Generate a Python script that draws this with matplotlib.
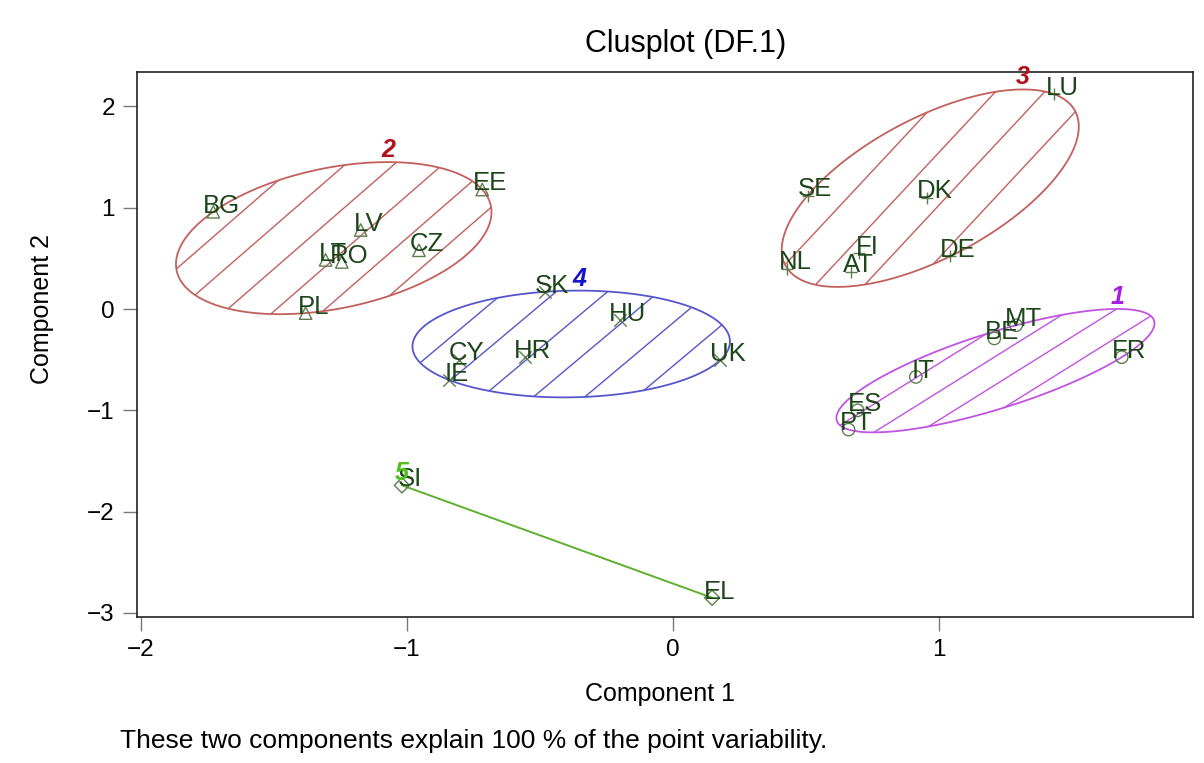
import numpy as np
import matplotlib
matplotlib.use("Agg")
import matplotlib.pyplot as plt
from matplotlib.patches import Polygon
from matplotlib.collections import LineCollection

plt.rcParams["font.family"] = ["Liberation Sans", "DejaVu Sans"]

# Country scores on the two components
NAMES = ["BE", "MT", "FR", "IT", "ES", "PT",
         "BG", "EE", "LV", "LT", "RO", "CZ", "PL",
         "LU", "SE", "DK", "FI", "AT", "NL", "DE",
         "SK", "HU", "HR", "CY", "IE", "UK",
         "SI", "EL"]
PC1 = [1.208, 1.290, 1.687, 0.913, 0.694, 0.660,
       -1.728, -0.717, -1.174, -1.306, -1.245, -0.955, -1.381,
       1.434, 0.506, 0.955, 0.700, 0.668, 0.430, 1.042,
       -0.483, -0.200, -0.558, -0.804, -0.842, 0.177,
       -1.019, 0.147]
PC2 = [-0.29, -0.16, -0.475, -0.67, -1.00, -1.19,
       0.96, 1.18, 0.78, 0.485, 0.465, 0.58, -0.04,
       2.12, 1.12, 1.10, 0.55, 0.37, 0.40, 0.52,
       0.17, -0.11, -0.475, -0.50, -0.70, -0.505,
       -1.74, -2.85]
CLUSTER = [1] * 6 + [2] * 7 + [3] * 7 + [4] * 6 + [5] * 2

X_TICKS = [-2, -1, 0, 1]
Y_TICKS = [-3, -2, -1, 0, 1, 2]

# style per cluster: marker, outline colour, label colour, hatch angle, hatch spacing (px)
STYLE = {
    1: dict(marker="o", edge="#c054e0", lab="#a61fe0", angle=32, gap=24),
    2: dict(marker="^", edge="#c2605c", lab="#b3121a", angle=41, gap=32),
    3: dict(marker="+", edge="#c2605c", lab="#b3121a", angle=47, gap=36),
    4: dict(marker="x", edge="#5656cc", lab="#1414c8", angle=40, gap=33),
    5: dict(marker="D", edge="#5fb02e", lab="#4cc21a", angle=45, gap=30),
}
PT_COL = "#5d7d50"
TXT_COL = "#1c461a"


def mvee(P, tol=1e-5, max_iter=4000):
    # minimum volume enclosing ellipse (Khachiyan), like cluster::ellipsoidhull
    N, d = P.shape
    Q = np.vstack([P.T, np.ones(N)])
    u = np.ones(N) / N
    for _ in range(max_iter):
        X = (Q * u) @ Q.T
        M = np.einsum("ij,ji->i", Q.T @ np.linalg.inv(X), Q)
        j = np.argmax(M)
        step = (M[j] - d - 1) / ((d + 1) * (M[j] - 1))
        new_u = (1 - step) * u
        new_u[j] += step
        err = np.linalg.norm(new_u - u)
        u = new_u
        if err < tol:
            break
    c = P.T @ u
    A = np.linalg.inv((P.T * u) @ P - np.outer(c, c)) / d
    return c, A


def ellipse_pts(c, A, n=400):
    w, V = np.linalg.eigh(A)
    t = np.linspace(0, 2 * np.pi, n)
    circ = np.vstack([np.cos(t), np.sin(t)])
    return (c[:, None] + V @ (circ / np.sqrt(w)[:, None])).T


def hatch(ax, patch, verts, angle, gap, color):
    T = ax.transData
    vp = T.transform(verts)
    c = vp.mean(axis=0)
    th = np.deg2rad(angle)
    d = np.array([np.cos(th), np.sin(th)])
    nrm = np.array([-np.sin(th), np.cos(th)])
    proj = (vp - c) @ nrm
    R = np.abs(vp - c).max() * 2
    segs = []
    for k in range(int(np.floor(proj.min() / gap)), int(np.ceil(proj.max() / gap)) + 1):
        off = (k + 0.5) * gap
        p0 = c + nrm * off - d * R
        p1 = c + nrm * off + d * R
        segs.append(T.inverted().transform(np.array([p0, p1])))
    lc = LineCollection(segs, colors=color, linewidths=1.0, zorder=2)
    ax.add_collection(lc)
    lc.set_clip_path(patch)


W, H = 1204, 763
fig = plt.figure(figsize=(W / 100, H / 100), dpi=100)
ax = fig.add_axes([137 / W, 1 - 617 / H, (1193 - 137) / W, (617 - 72) / H])
ax.set_xlim(-2.015, 1.955)
ax.set_ylim(-3.04, 2.34)

x = np.array(PC1)
y = np.array(PC2)
cl = np.array(CLUSTER)

for k in sorted(STYLE):
    s = STYLE[k]
    m = cl == k
    P = np.column_stack([x[m], y[m]])
    if len(P) >= 3:
        c, A = mvee(P)
        E = ellipse_pts(c, A)
        patch = Polygon(E, closed=True, fill=False, edgecolor=s["edge"], lw=1.3, zorder=3)
        ax.add_patch(patch)
        hatch(ax, patch, E, s["angle"], s["gap"], s["edge"])
        top = E[np.argmax(E[:, 1])]
    else:
        ax.plot(P[:, 0], P[:, 1], color=s["edge"], lw=1.4, zorder=3)
        top = P[np.argmax(P[:, 1])]
    ax.text(top[0], top[1], str(k), color=s["lab"], fontsize=18, fontweight="bold",
            fontstyle="italic", ha="center", va="bottom", zorder=6)

    if s["marker"] in ("+", "x"):
        ax.scatter(x[m], y[m], marker=s["marker"], s=80, color=PT_COL, linewidths=1.0, zorder=4)
    else:
        ms = 60 if s["marker"] == "D" else 80
        ax.scatter(x[m], y[m], marker=s["marker"], s=ms, facecolors="none",
                   edgecolors=PT_COL, linewidths=1.0, zorder=4)

for name, xi, yi in zip(NAMES, PC1, PC2):
    ax.annotate(name, (xi, yi), xytext=(5.5, 4.5), textcoords="offset points",
                ha="center", va="center", fontsize=18.5, color=TXT_COL, zorder=5)

ax.set_xticks(X_TICKS)
ax.set_yticks(Y_TICKS)
ax.tick_params(direction="out", length=10, width=1.0, color="#7a7a7a",
               labelsize=17.5, pad=6)
for sp in ax.spines.values():
    sp.set_color("#222222")
    sp.set_linewidth(1.2)

fig.text(686 / W, 1 - 52 / H, "Clusplot (DF.1)", fontsize=22, ha="center", va="baseline")
fig.text(660 / W, 1 - 701 / H, "Component 1", fontsize=18, ha="center", va="baseline")
fig.text(42 / W, 1 - 309 / H, "Component 2", fontsize=18, ha="center", va="center",
         rotation=90)
fig.text(120 / W, 1 - 748 / H, "These two components explain 100 % of the point variability.",
         fontsize=19, ha="left", va="baseline")

fig.savefig("out.png", dpi=100)
